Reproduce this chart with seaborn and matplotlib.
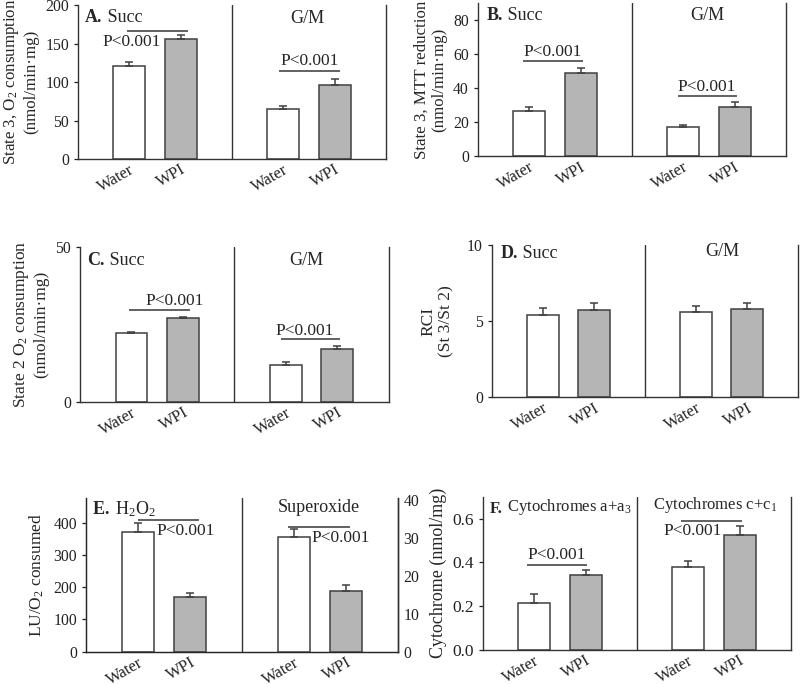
import numpy as np
import pandas as pd
import matplotlib
matplotlib.use("Agg")
import matplotlib.pyplot as plt
import seaborn as sns

sns.set_style("ticks")
plt.rcParams['font.family'] = ['Liberation Serif', 'DejaVu Serif']
plt.rcParams['mathtext.fontset'] = 'custom'
plt.rcParams['mathtext.rm'] = 'Liberation Serif'
plt.rcParams['mathtext.it'] = 'Liberation Serif:italic'
plt.rcParams['mathtext.bf'] = 'Liberation Serif:bold'

# --- data (Succ / G/M pairs) ---
groups = ['Water', 'WPI']

a_water = [121, 65]
a_water_err = [5, 4]
a_wpi = [156, 96]
a_wpi_err = [5.5, 7.5]

b_water = [26.5, 17]
b_water_err = [2.5, 1.5]
b_wpi = [49, 29]
b_wpi_err = [3, 3]

c_water = [22.3, 12]
c_water_err = [0.3, 0.9]
c_wpi = [27.2, 16.9]
c_wpi_err = [0.3, 1.1]

d_water = [5.4, 5.58]
d_water_err = [0.48, 0.42]
d_wpi = [5.73, 5.82]
d_wpi_err = [0.44, 0.4]

# E: H2O2 on left axis, superoxide on right axis
e_h2o2 = [370, 168]
e_h2o2_err = [28, 14]
e_sox = [30.3, 16.1]
e_sox_err = [2.1, 1.4]

f_water = [0.215, 0.379]
f_water_err = [0.043, 0.026]
f_wpi = [0.341, 0.527]
f_wpi_err = [0.026, 0.04]

PALETTE = {'Water': 'white', 'WPI': '#b5b5b5'}
EDGE = '#404040'
SIG = '#555555'
POS = [1, 2, 4, 5]


def draw_bars(ax, pos, vals, errs, grp):
    df = pd.DataFrame({'pos': pos, 'val': vals, 'group': grp})
    sns.barplot(data=df, x='pos', y='val', hue='group', palette=PALETTE,
                native_scale=True, dodge=False, width=0.62, errorbar=None,
                edgecolor=EDGE, linewidth=1.1, legend=False, ax=ax)
    ax.errorbar(df['pos'], df['val'], yerr=[np.zeros(len(df)), errs],
                fmt='none', ecolor=EDGE, elinewidth=1.1, capsize=3, capthick=1.1)


def set_xlabels(ax):
    ax.set_xticks(POS)
    ax.set_xticklabels(groups * 2, rotation=30, ha='right', va='top',
                       rotation_mode='anchor', fontsize=12)
    ax.tick_params(axis='x', length=0, pad=2)


def style_axes(ax, ylim, yticks, ylabel, tick_fs=11.3, label_fs=12.5, labelpad=4):
    ax.set_xlim(0, 6)
    ax.set_ylim(*ylim)
    ax.set_yticks(yticks)
    set_xlabels(ax)
    ax.tick_params(axis='y', length=3, width=0.9, labelsize=tick_fs, colors='#222222')
    ax.set_xlabel('')
    ax.set_ylabel(ylabel, fontsize=label_fs, labelpad=labelpad)
    ax.spines['top'].set_visible(False)
    for s in ['left', 'bottom', 'right']:
        ax.spines[s].set_color('#333333')
        ax.spines[s].set_linewidth(1.0)
    ax.axvline(3, color='#333333', lw=1.0)


def panel_title(ax, letter, rest, x, y, fs=13):
    t = ax.text(x, y, letter, fontsize=fs, fontweight='bold', va='center', ha='left')
    ax.annotate(rest, xy=(1, 0), xycoords=t, fontsize=fs, va='bottom', ha='left')


def sig(ax, x0, x1, y, tx, ty, fs=12.5):
    ax.plot([x0, x1], [y, y], color=SIG, lw=1.3, solid_capstyle='butt')
    ax.text(tx, ty, 'P<0.001', fontsize=fs, ha='center', va='center')


fig = plt.figure(figsize=(8, 6.84), dpi=100)
axA = fig.add_axes([0.0975, 0.7675, 0.385, 0.225])
axB = fig.add_axes([0.5975, 0.7715, 0.385, 0.2237])
axC = fig.add_axes([0.100, 0.4127, 0.386, 0.226])
axD = fig.add_axes([0.615, 0.4192, 0.3825, 0.2227])
axE = fig.add_axes([0.1075, 0.0472, 0.39, 0.2243])
axF = fig.add_axes([0.60375, 0.0497, 0.385, 0.2241])

grp4 = ['Water', 'Water', 'WPI', 'WPI']
pos4 = [1, 4, 2, 5]

# A
draw_bars(axA, pos4, a_water + a_wpi, a_water_err + a_wpi_err, grp4)
style_axes(axA, (0, 200), [0, 50, 100, 150, 200],
           'State 3, $\\mathrm{O_2}$ consumption\n(nmol/min\u00b7mg)', label_fs=12.2)
panel_title(axA, 'A.', ' Succ', 0.14, 184)
axA.text(4.46, 182, 'G/M', fontsize=13, ha='center', va='center')
sig(axA, 0.95, 2.14, 166, 1.04, 152)
sig(axA, 3.92, 5.1, 114, 4.52, 127)

# B
draw_bars(axB, pos4, b_water + b_wpi, b_water_err + b_wpi_err, grp4)
style_axes(axB, (0, 90), [0, 20, 40, 60, 80],
           'State 3, MTT reduction\n(nmol/min\u00b7mg)', label_fs=12.2)
panel_title(axB, 'B.', ' Succ', 0.17, 82.7)
axB.text(4.46, 82.7, 'G/M', fontsize=13, ha='center', va='center')
sig(axB, 0.88, 2.05, 56, 1.46, 61.5)
sig(axB, 3.9, 5.05, 35.7, 4.46, 41)

# C
draw_bars(axC, pos4, c_water + c_wpi, c_water_err + c_wpi_err, grp4)
style_axes(axC, (0, 50), [0, 50],
           'State 2 $\\mathrm{O_2}$ consumption\n(nmol/min\u00b7mg)')
panel_title(axC, 'C.', ' Succ', 0.14, 45.6)
axC.text(4.4, 45.6, 'G/M', fontsize=13, ha='center', va='center')
sig(axC, 0.95, 2.13, 29.6, 1.83, 32.6)
sig(axC, 3.9, 5.06, 20.3, 4.37, 22.8)

# D
draw_bars(axD, pos4, d_water + d_wpi, d_water_err + d_wpi_err, grp4)
style_axes(axD, (0, 10), [0, 5, 10], 'RCI\n(St 3/St 2)', labelpad=9)
panel_title(axD, 'D.', ' Succ', 0.16, 9.45)
axD.text(4.52, 9.56, 'G/M', fontsize=13, ha='center', va='center')

# E
draw_bars(axE, [1, 2], e_h2o2, e_h2o2_err, groups)
axE2 = axE.twinx()
draw_bars(axE2, [4, 5], e_sox, e_sox_err, groups)
style_axes(axE, (0, 475), [0, 100, 200, 300, 400],
           'LU/$\\mathrm{O_2}$ consumed', labelpad=5)
axE2.set_xlim(0, 6)
axE2.set_ylim(0, 40.5)
axE2.set_yticks([0, 10, 20, 30, 40])
axE2.set_ylabel('')
axE2.tick_params(axis='y', length=0, pad=4, labelsize=11.3, colors='#222222')
axE2.spines['top'].set_visible(False)
axE2.spines['right'].set_color('#333333')
axE2.spines['right'].set_linewidth(1.0)
set_xlabels(axE)
axE.text(0.12, 442, '$\\mathbf{E.}$ $\\mathrm{H_2O_2}$', fontsize=13, ha='left', va='center')
axE.text(4.47, 445, 'Superoxide', fontsize=13, ha='center', va='center')
sig(axE, 1.0, 2.17, 408, 1.92, 374)
sig(axE2, 3.89, 5.07, 33, 4.9, 30.1)

# F
draw_bars(axF, pos4, f_water + f_wpi, f_water_err + f_wpi_err, grp4)
style_axes(axF, (0, 0.7), [0.0, 0.2, 0.4, 0.6], 'Cytochrome (nmol/mg)',
           tick_fs=12.5, label_fs=13)
axF.yaxis.set_major_formatter(matplotlib.ticker.FormatStrFormatter('%.1f'))
panel_title(axF, 'F.', ' Cytochromes a+a$_3$', 0.14, 0.645, fs=12)
axF.text(4.52, 0.66, 'Cytochromes c+c$_1$', fontsize=12, ha='center', va='center')
sig(axF, 0.86, 2.03, 0.39, 1.44, 0.432)
sig(axF, 3.86, 5.05, 0.59, 4.08, 0.545)

fig.savefig('out.png', dpi=100)
